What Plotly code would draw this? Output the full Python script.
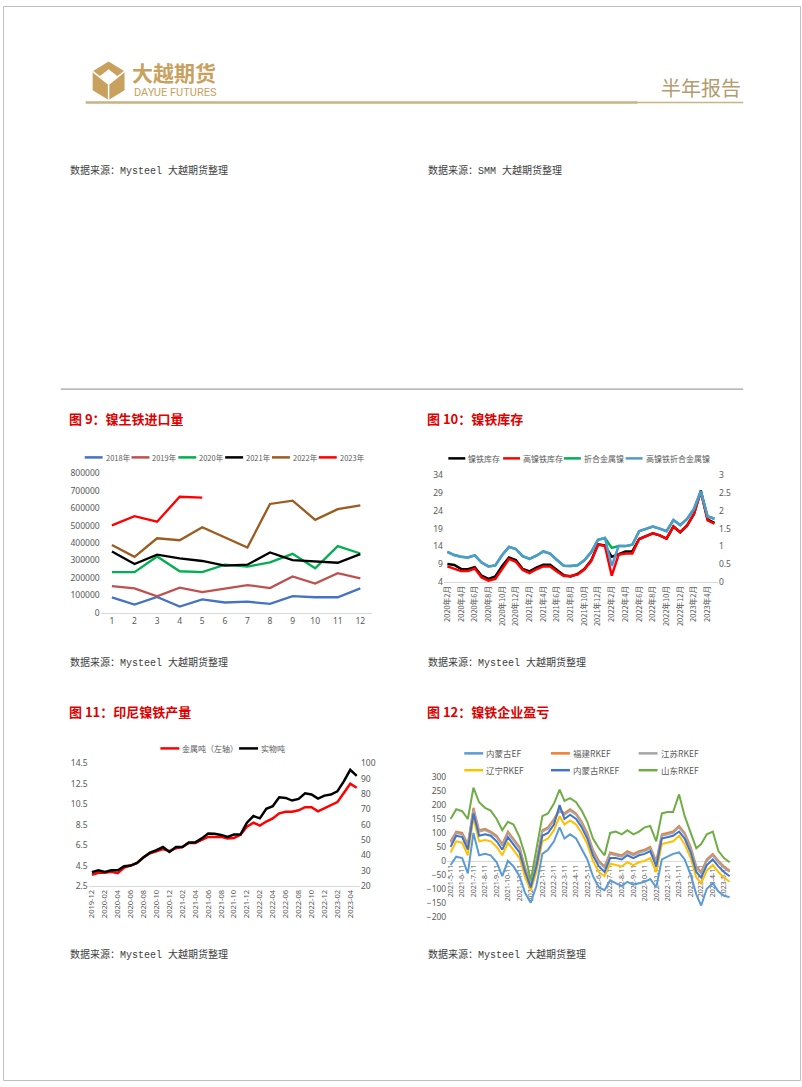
import plotly.graph_objects as go

W, H = 802, 1087
def X(px): return px / W
def Y(py): return 1 - py / H

# ---------------- Chart 9: 镍生铁进口量 ----------------
months9 = [1, 2, 3, 4, 5, 6, 7, 8, 9, 10, 11, 12]
years9 = ["2018年", "2019年", "2020年", "2021年", "2022年", "2023年"]
imp_2018 = [88000, 47000, 91000, 36000, 77000, 59000, 64000, 51000, 95000, 89000, 89000, 140000]
imp_2019 = [153000, 140000, 95000, 144000, 119000, 140000, 159000, 142000, 208000, 168000, 227000, 197000]
imp_2020 = [233000, 233000, 323000, 238000, 233000, 276000, 265000, 289000, 338000, 255000, 382000, 340000]
imp_2021 = [352000, 280000, 333000, 312000, 297000, 270000, 276000, 346000, 302000, 295000, 287000, 336000]
imp_2022 = [389000, 321000, 427000, 416000, 490000, 433000, 374000, 624000, 643000, 533000, 594000, 616000]
imp_2023 = [501000, 554000, 522000, 665000, 660000]
colors9 = ["#4472C4", "#C0504D", "#00B050", "#000000", "#9C5B1F", "#FF0000"]

# ---------------- Chart 10: 镍铁库存 ----------------
months10 = [f"{2020 + (m + 1) // 12}年{(m + 1) % 12 + 1}月" for m in range(40)]
inv_total = [9.1, 8.8, 7.7, 7.6, 8.2, 5.8, 4.9, 5.6, 8.5, 10.9, 10.2, 7.7, 7.0, 8.1, 8.9, 8.9, 7.4, 5.9, 5.6, 6.3,
             7.7, 10.1, 14.6, 14.3, 11.1, 11.8, 12.6, 12.6, 16.1, 16.9, 17.7, 17.1, 16.2, 19.6, 18.0, 19.9, 23.1, 29.7, 21.5, 20.6]
inv_high = [8.4, 7.8, 7.1, 7.1, 7.8, 5.3, 4.4, 4.9, 7.7, 10.5, 9.7, 7.4, 6.5, 7.6, 8.4, 8.4, 7.0, 5.7, 5.7, 6.1,
            7.5, 9.9, 14.5, 14.2, 5.8, 11.7, 12.0, 12.0, 16.1, 16.9, 17.7, 17.1, 16.2, 19.6, 18.0, 19.9, 23.1, 29.3, 21.3, 20.4]
metal_total = [0.85, 0.76, 0.71, 0.69, 0.75, 0.55, 0.44, 0.47, 0.76, 0.99, 0.93, 0.73, 0.65, 0.74, 0.86, 0.80, 0.62, 0.46, 0.45, 0.47,
               0.61, 0.84, 1.19, 1.24, 0.96, 1.01, 1.01, 1.05, 1.43, 1.49, 1.56, 1.50, 1.43, 1.74, 1.60, 1.77, 2.05, 2.55, 1.84, 1.78]
metal_high = [0.85, 0.76, 0.71, 0.69, 0.75, 0.55, 0.44, 0.47, 0.76, 0.99, 0.93, 0.73, 0.65, 0.74, 0.86, 0.80, 0.62, 0.46, 0.45, 0.47,
              0.61, 0.84, 1.19, 1.24, 0.45, 1.01, 1.01, 1.05, 1.43, 1.49, 1.56, 1.50, 1.43, 1.74, 1.60, 1.77, 2.05, 2.55, 1.84, 1.78]
names10 = ["镍铁库存", "高镍铁库存", "折合金属镍", "高镍铁折合金属镍"]
colors10 = ["#000000", "#FF0000", "#00B050", "#4F9BD0"]

# ---------------- Chart 11: 印尼镍铁产量 ----------------
months11 = [f"{2019 + (m + 11) // 12}-{(m + 11) % 12 + 1:02d}" for m in range(42)]
prod_metal = [3.6, 3.8, 3.8, 3.9, 3.75, 4.3, 4.5, 4.76, 5.3, 5.7, 5.9, 6.1, 5.9, 6.2, 6.3, 6.7, 6.7, 7.0, 7.3, 7.3, 7.3,
              7.15, 7.2, 7.5, 8.3, 8.7, 8.4, 8.8, 9.1, 9.6, 9.76, 9.76, 9.9, 10.2, 10.2, 9.8, 10.1, 10.4, 10.7, 11.6, 12.5, 12.1]
prod_physical = [29.0, 30.3, 29.2, 30.3, 30.3, 32.9, 33.3, 35.0, 38.7, 41.7, 43.4, 45.4, 42.2, 45.4, 45.4, 48.4, 48.4, 51.0, 54.2, 54.0, 53.3,
                 52.0, 53.5, 53.5, 61.3, 65.6, 64.1, 70.3, 72.0, 77.8, 77.4, 75.7, 76.8, 80.4, 79.6, 77.0, 78.9, 79.6, 81.7, 88.2, 95.7, 91.8]
names11 = ["金属吨（左轴）", "实物吨"]
colors11 = ["#FF0000", "#000000"]

# ---------------- Chart 12: 镍铁企业盈亏 ----------------
dates12 = [f"{2021 + (4 + k // 2) // 12}-{(4 + k // 2) % 12 + 1:02d}-{11 if k % 2 == 0 else 26}" for k in range(50)]
tick_dates12 = [f"{2021 + (4 + m) // 12}-{(4 + m) % 12 + 1:02d}-11" for m in range(25)]
tick_text12 = [f"{2021 + (4 + m) // 12}-{(4 + m) % 12 + 1}-11" for m in range(25)]
nmg_ef = [-15, 15, 10, -45, 100, 20, 25, 20, -5, -55, 0, -20, -55, -115, -150, -90, 25, 40, 70, 120, 80, 95, 80, 45, 5,
          -55, -95, -105, -70, -80, -90, -75, -85, -80, -75, -65, -95, 5, 15, 25, 30, 5, -50, -120, -160, -100, -80, -110, -125, -130]
fj_rkef = [70, 105, 100, 60, 190, 110, 115, 105, 90, 60, 105, 80, 50, -25, -80, 0, 110, 120, 150, 185, 170, 185, 170, 140, 100,
           40, 0, -20, 30, 25, 20, 35, 25, 35, 40, 50, 0, 95, 100, 105, 125, 100, 50, -20, -40, 5, 25, 0, -20, -35]
js_rkef = [65, 100, 95, 55, 183, 104, 110, 100, 85, 55, 100, 75, 45, -30, -85, -5, 105, 115, 145, 180, 165, 180, 165, 135, 95,
           35, -5, -25, 25, 20, 15, 30, 20, 30, 35, 45, -5, 90, 95, 100, 120, 95, 45, -25, -45, 0, 20, -5, -25, -40]
ln_rkef = [30, 70, 65, 20, 155, 70, 75, 70, 50, 20, 65, 40, 10, -60, -105, -40, 70, 80, 110, 160, 130, 145, 130, 100, 60,
           0, -40, -55, -10, -15, -20, -5, -15, -5, 0, 10, -40, 60, 65, 70, 90, 60, 10, -60, -80, -35, -15, -40, -60, -75]
nmg_rkef = [50, 90, 85, 40, 170, 90, 95, 90, 70, 40, 85, 60, 30, -40, -95, -20, 90, 100, 130, 200, 150, 165, 150, 120, 80,
            20, -20, -40, 10, 10, 5, 20, 10, 20, 25, 35, -20, 80, 85, 90, 105, 80, 30, -40, -60, -15, 5, -20, -40, -55]
sd_rkef = [150, 185, 178, 150, 262, 210, 190, 180, 150, 110, 140, 130, 85, 20, -70, 40, 160, 170, 205, 255, 215, 225, 210, 180, 140,
           80, 45, 20, 100, 105, 95, 110, 95, 105, 120, 125, 70, 170, 175, 175, 238, 160, 100, 45, 60, 95, 105, 35, 10, -5]
names12 = ["内蒙古EF", "福建RKEF", "江苏RKEF", "辽宁RKEF", "内蒙古RKEF", "山东RKEF"]
colors12 = ["#5B9BD5", "#ED7D31", "#A5A5A5", "#FFC000", "#4472C4", "#70AD47"]

TICKFONT = dict(family="Noto Sans, Noto Sans CJK SC", size=8.5, color="#595959")
fig = go.Figure()

for name, vals, col in zip(years9, [imp_2018, imp_2019, imp_2020, imp_2021, imp_2022, imp_2023], colors9):
    fig.add_trace(go.Scatter(x=months9[:len(vals)], y=vals, mode="lines", name=name,
                             line=dict(color=col, width=2.3), xaxis="x", yaxis="y", showlegend=False))
for name, vals, col, ax in zip(names10, [inv_total, inv_high, metal_total, metal_high], colors10, ["y2", "y2", "y3", "y3"]):
    fig.add_trace(go.Scatter(x=months10, y=vals, mode="lines", name=name,
                             line=dict(color=col, width=2.5), xaxis="x2", yaxis=ax, showlegend=False))
for name, vals, col, ax in zip(names11, [prod_metal, prod_physical], colors11, ["y4", "y5"]):
    fig.add_trace(go.Scatter(x=months11, y=vals, mode="lines", name=name,
                             line=dict(color=col, width=2.5), xaxis="x3", yaxis=ax, showlegend=False))
for name, vals, col in zip(names12, [nmg_ef, fj_rkef, js_rkef, ln_rkef, nmg_rkef, sd_rkef], colors12):
    fig.add_trace(go.Scatter(x=dates12, y=vals, mode="lines", name=name,
                             line=dict(color=col, width=2), xaxis="x4", yaxis="y6", showlegend=False))

axis_common = dict(showgrid=False, zeroline=False, tickfont=TICKFONT, ticks="", fixedrange=True)

fig.update_layout(
    xaxis=dict(domain=[X(98), X(370)], range=[0.5, 12.5], tickvals=months9, showline=True,
               linecolor="#D9D9D9", anchor="y", **axis_common),
    yaxis=dict(domain=[Y(613), Y(472)], range=[0, 800000], dtick=100000, tickformat="d", showline=False,
               anchor="x", **axis_common),
)
fig.update_layout(
    xaxis2=dict(domain=[X(442.6), X(717.6)], type="category", range=[-0.5, 39.5], tickvals=months10[0::2],
                tickangle=-90, showline=True, linecolor="#D9D9D9", anchor="y2",
                **{**axis_common, "tickfont": dict(family="Noto Sans CJK SC", size=7.5, color="#595959")}),
    yaxis2=dict(domain=[Y(582), Y(474)], range=[4, 34], tick0=4, dtick=5, anchor="x2", **axis_common),
    yaxis3=dict(domain=[Y(582), Y(474)], range=[0, 3], dtick=0.5, overlaying="y2", side="right",
                anchor="x2", **axis_common),
)
fig.update_layout(
    xaxis3=dict(domain=[X(86), X(358.3)], type="category", range=[-0.5, 41.5], tickvals=months11[0::2],
                tickangle=-90, showline=True, linecolor="#D9D9D9", anchor="y4",
                **{**axis_common, "tickfont": dict(family="Noto Sans, Noto Sans CJK SC", size=7.5, color="#595959")}),
    yaxis4=dict(domain=[Y(889), Y(765)], range=[2.5, 14.5], tick0=2.5, dtick=2, anchor="x3", **axis_common),
    yaxis5=dict(domain=[Y(889), Y(765)], range=[20, 100], dtick=10, overlaying="y4", side="right",
                anchor="x3", **axis_common),
)
y12_dom = [Y(920), Y(779)]
y12_range = [-200, 300]
zero_pos = y12_dom[0] + (0 - y12_range[0]) / (y12_range[1] - y12_range[0]) * (y12_dom[1] - y12_dom[0])
fig.update_layout(
    xaxis4=dict(domain=[X(445.9), X(730.5)], type="date", range=["2021-05-02", "2023-05-29"],
                tickvals=tick_dates12, ticktext=tick_text12, tickangle=-90, showline=True,
                linecolor="#D9D9D9", anchor="free", position=zero_pos, layer="below traces",
                **{**axis_common, "tickfont": dict(family="Noto Sans, Noto Sans CJK SC", size=7, color="#595959")}),
    yaxis6=dict(domain=y12_dom, range=y12_range, dtick=50, anchor="x4", **axis_common),
)

shapes = []
annotations = []

def text(px, py, s, size=10, color="#333333", family="Noto Sans CJK SC", xanchor="left", bold=False):
    annotations.append(dict(x=X(px), y=Y(py), xref="paper", yref="paper", text=f"<b>{s}</b>" if bold else s,
                            showarrow=False, xanchor=xanchor, yanchor="middle",
                            font=dict(size=size, color=color, family=family)))

def hline(x0, x1, py, color, width):
    shapes.append(dict(type="line", xref="paper", yref="paper", x0=X(x0), x1=X(x1), y0=Y(py), y1=Y(py),
                       line=dict(color=color, width=width)))

def legend_item(x0, py, color, label, size=8.5, length=18):
    hline(x0, x0 + length, py, color, 2.5)
    text(x0 + length + 1, py, label, size=size, color="#595959", family="Noto Sans CJK SC, Noto Sans")

# ---- header ----
GOLD = "#C8A15E"
logo = [(106, 56), (122, 66), (122, 85), (106, 95), (90, 85), (90, 66)]
shapes.append(dict(type="path", xref="paper", yref="paper",
                   path="M " + " L ".join(f"{X(a)},{Y(b)}" for a, b in logo) + " Z",
                   fillcolor=GOLD, line=dict(width=0)))
inner = [(106, 64), (115, 71), (106, 79), (97, 71)]
shapes.append(dict(type="path", xref="paper", yref="paper",
                   path="M " + " L ".join(f"{X(a)},{Y(b)}" for a, b in inner) + " Z",
                   fillcolor="white", line=dict(width=0)))
for (a0, b0, a1, b1) in [(90, 66, 106, 79), (122, 66, 106, 79), (106, 79, 106, 95)]:
    shapes.append(dict(type="line", xref="paper", yref="paper", x0=X(a0), y0=Y(b0), x1=X(a1), y1=Y(b1),
                       line=dict(color="white", width=1.5)))
text(127, 67, "大越期货", size=21, color=GOLD, bold=True)
text(129, 87, "DAYUE FUTURES", size=11, color=GOLD, family="Roboto")
text(743, 82, "半年报告", size=20, color="#B39C70", xanchor="right")
hline(83, 637, 97.5, "#C9B283", 2.5)
hline(637, 743, 97.5, "#C9B283", 1.5)

# ---- page border and separator ----
shapes.append(dict(type="rect", xref="paper", yref="paper", x0=X(0.5), x1=X(800.5), y0=Y(1085.5), y1=Y(0.5),
                   line=dict(color="#BFBFBF", width=1)))
hline(58, 743, 387, "#8C8C8C", 1)

# ---- source notes ----
SRC = "Liberation Mono, Noto Sans CJK SC"
for px, py, s in [(65, 166, "数据来源：Mysteel 大越期货整理"), (425, 166, "数据来源：SMM 大越期货整理"),
                  (65, 663, "数据来源：Mysteel 大越期货整理"), (425, 663, "数据来源：Mysteel 大越期货整理"),
                  (65, 958, "数据来源：Mysteel 大越期货整理"), (425, 958, "数据来源：Mysteel 大越期货整理")]:
    text(px, py, s, size=10, color="#404040", family=SRC)

# ---- titles ----
RED = "#E00000"
text(64, 417, "图 9：镍生铁进口量", size=13, color=RED, bold=True)
text(424, 417, "图 10：镍铁库存", size=13, color=RED, bold=True)
text(64, 713, "图 11：印尼镍铁产量", size=13, color=RED, bold=True)
text(424, 713, "图 12：镍铁企业盈亏", size=13, color=RED, bold=True)

# ---- legends ----
for i, (name, col) in enumerate(zip(years9, colors9)):
    legend_item(82 + i * 47, 456, col, name, size=7.5)
for x0, name, col in zip([447, 502, 563, 625], names10, colors10):
    legend_item(x0, 457, col, name, size=8, length=17)
for x0, name, col in zip([158, 237], names11, colors11):
    legend_item(x0, 750, col, name, size=8, length=19)
for i, (name, col) in enumerate(zip(names12, colors12)):
    row, c = divmod(i, 3)
    legend_item([463, 550, 638][c], [755, 772][row], col, name, size=8.5, length=19)

fig.update_layout(width=W, height=H, margin=dict(l=0, r=0, t=0, b=0), paper_bgcolor="white",
                  plot_bgcolor="white", shapes=shapes, annotations=annotations, showlegend=False)
fig.write_html("out.html", config={"displayModeBar": False},
               post_script="document.body.style.margin='0';document.body.style.overflow='hidden';")
